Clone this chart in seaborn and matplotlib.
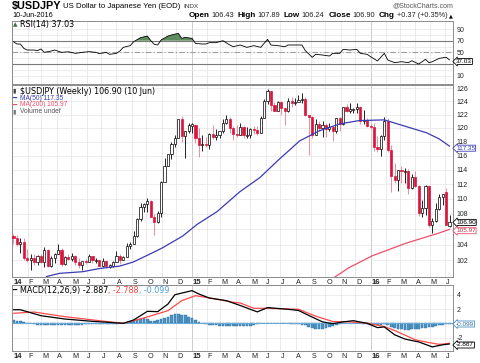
import numpy as np
import pandas as pd
import matplotlib
matplotlib.use("Agg")
import matplotlib.pyplot as plt
import matplotlib.dates as mdates
import matplotlib.transforms as mtrans
from matplotlib.ticker import FixedLocator, NullLocator, FixedFormatter
import seaborn as sns

# ---------------- data ----------------
week_dates = pd.date_range("2014-01-03", "2016-06-10", freq="W-FRI")  # 128 weekly bars

opens = [105.1, 104.8, 104.1, 104.3, 102.3, 102.0, 102.3, 101.8, 102.5, 101.8, 103.3, 101.3, 102.3,
         102.8, 103.3, 101.6, 102.4, 102.2, 102.6, 101.85, 101.45, 101.95, 101.8, 102.5, 102.0, 102.05,
         101.35, 101.9, 101.3, 101.35, 101.8, 102.6, 102.05, 102.4, 103.8, 104.1, 105.1, 107.3, 108.9,
         109.3, 109.7, 107.6, 106.9, 108.1, 112.3, 114.6, 116.3, 117.7, 118.6, 121.4, 118.8, 119.5,
         120.4, 120.5, 118.6, 117.5, 117.7, 117.5, 119.1, 118.7, 119.0, 119.6, 120.8, 121.4, 120.0,
         119.1, 119.0, 120.2, 118.9, 118.9, 119.8, 119.7, 119.3, 121.5, 124.1, 125.6, 123.4, 122.6,
         123.9, 123.0, 122.6, 124.0, 123.8, 123.9, 124.2, 124.3, 122.0, 121.7, 119.0, 120.6, 120.0,
         120.5, 119.9, 120.2, 119.5, 121.5, 120.6, 123.2, 122.6, 122.8, 122.8, 123.1, 121.0, 121.2,
         120.3, 120.2, 117.2, 117.0, 118.8, 121.1, 116.8, 113.2, 112.6, 114.0, 113.8, 113.8, 111.5,
         113.0, 111.7, 108.1, 108.8, 111.8, 106.6, 107.1, 108.6, 110.2, 110.9, 106.43]
highs = [105.4, 105.2, 104.9, 104.9, 103.4, 102.8, 102.8, 102.7, 102.8, 103.7, 103.4, 102.6, 102.9,
         104.1, 103.6, 102.5, 102.8, 103.0, 102.7, 102.35, 101.7, 102.2, 102.8, 102.6, 102.3, 102.1,
         102.3, 102.0, 101.6, 101.9, 103.15, 102.8, 102.6, 104.2, 104.3, 105.7, 107.4, 109.46, 109.4,
         110.09, 109.9, 108.0, 108.4, 112.5, 115.6, 116.3, 118.0, 119.0, 121.4, 121.85, 119.6, 120.8,
         120.8, 120.6, 120.0, 118.9, 118.7, 119.2, 120.5, 119.8, 119.6, 121.3, 122.0, 121.6, 120.3,
         120.4, 120.8, 120.3, 120.1, 120.0, 120.3, 120.3, 121.8, 124.4, 125.85, 125.6, 123.9, 124.0,
         124.0, 123.0, 124.5, 124.6, 124.5, 125.0, 125.28, 124.6, 122.0, 121.8, 121.3, 121.0, 121.0,
         120.8, 120.7, 120.3, 121.5, 121.7, 123.2, 123.6, 123.8, 123.0, 123.7, 123.3, 122.7, 121.5,
         120.6, 120.7, 118.8, 118.9, 121.7, 121.5, 117.5, 114.9, 114.0, 114.5, 114.2, 114.1, 113.4,
         113.8, 111.9, 109.8, 111.9, 111.9, 107.5, 109.5, 110.6, 110.6, 111.45, 107.89]
lows = [104.1, 103.8, 102.9, 102.1, 101.8, 100.8, 101.4, 101.4, 101.7, 101.2, 101.2, 101.2, 101.7,
        102.8, 101.3, 101.4, 102.0, 101.9, 101.45, 101.1, 100.8, 101.6, 101.8, 101.7, 101.7, 101.3,
        101.2, 101.1, 101.1, 101.2, 101.8, 101.5, 102.0, 102.4, 103.5, 104.1, 105.0, 107.0, 108.3,
        108.3, 107.6, 105.2, 106.8, 107.6, 112.3, 114.6, 115.5, 117.2, 118.6, 117.9, 115.6, 119.3,
        119.3, 117.8, 115.85, 116.7, 117.3, 116.9, 118.4, 118.3, 118.6, 119.3, 120.6, 119.3, 118.3,
        118.7, 118.9, 118.6, 118.6, 118.5, 119.1, 118.9, 119.3, 121.5, 123.6, 122.5, 122.5, 122.6,
        121.9, 120.4, 122.4, 123.2, 123.4, 123.9, 123.8, 121.8, 116.15, 118.6, 119.0, 119.5, 118.7,
        118.7, 119.6, 118.1, 119.3, 119.6, 120.4, 122.4, 122.2, 122.3, 122.3, 120.6, 120.6, 120.2,
        119.8, 116.7, 116.5, 115.97, 118.3, 116.5, 110.98, 112.2, 111.1, 112.2, 112.2, 110.7, 111.4,
        111.6, 107.7, 107.6, 107.9, 106.3, 105.55, 106.9, 108.5, 109.2, 106.5, 106.24]
closes = [104.8, 104.1, 104.3, 102.3, 102.0, 102.3, 101.8, 102.5, 101.8, 103.3, 101.3, 102.3, 102.8,
          103.3, 101.6, 102.4, 102.2, 102.6, 101.85, 101.45, 101.95, 101.8, 102.5, 102.0, 102.05, 101.35,
          101.9, 101.3, 101.35, 101.8, 102.6, 102.05, 102.4, 103.8, 104.1, 105.1, 107.3, 108.9, 109.3,
          109.7, 107.6, 106.9, 108.1, 112.3, 114.6, 116.3, 117.7, 118.6, 121.4, 118.8, 119.5, 120.4,
          120.5, 118.6, 117.5, 117.7, 117.5, 119.1, 118.7, 119.0, 119.6, 120.8, 121.4, 120.0, 119.1,
          119.0, 120.2, 118.9, 118.9, 119.8, 119.7, 119.3, 121.5, 124.1, 125.6, 123.4, 122.6, 123.9,
          123.0, 122.6, 124.0, 123.8, 123.9, 124.2, 124.3, 122.0, 121.7, 119.0, 120.6, 120.0, 120.5,
          119.9, 120.2, 119.5, 121.5, 120.6, 123.2, 122.6, 122.8, 122.8, 123.1, 121.0, 121.2, 120.3,
          120.2, 117.2, 117.0, 118.8, 121.1, 116.8, 113.2, 112.6, 114.0, 113.8, 113.8, 111.5, 113.0,
          111.7, 108.1, 108.8, 111.8, 106.6, 107.1, 108.6, 110.2, 110.7, 106.53, 106.90]

ma50_dates = ["2014-03-11", "2014-04-07", "2014-05-24", "2014-06-28", "2014-08-08", "2014-09-04",
              "2014-10-08", "2014-11-03", "2014-12-14", "2015-01-12", "2015-02-22", "2015-04-10",
              "2015-05-20", "2015-06-29", "2015-07-23", "2015-08-09", "2015-09-19", "2015-10-30",
              "2015-12-09", "2016-01-29", "2016-03-14", "2016-04-24", "2016-05-20", "2016-06-10"]
ma50_vals = [100.0, 100.4, 100.6, 101.0, 101.3, 101.8, 102.8, 103.6, 105.1, 106.6, 108.3, 111.0,
             112.9, 115.5, 117.0, 118.1, 119.6, 120.6, 121.1, 121.2, 120.2, 119.3, 118.4, 117.35]
ma200_dates = ["2015-10-19", "2015-11-18", "2016-01-05", "2016-03-14", "2016-05-20", "2016-06-10"]
ma200_vals = [99.9, 101.1, 102.6, 104.2, 105.5, 105.97]

rsi_idx = [0, 1, 2, 3, 4, 6, 7, 8, 9, 11, 12, 14, 16, 18, 20, 22, 24, 25, 27, 28, 30, 31, 32, 34, 35,
           37, 39, 40, 41, 42, 43, 45, 46, 48, 49, 50, 52, 53, 55, 56, 57, 59, 61, 63, 64, 66, 68, 70,
           72, 74, 75, 77, 79, 80, 84, 85, 87, 88, 90, 92, 93, 95, 96, 98, 100, 101, 103, 104, 106,
           108, 109, 111, 113, 115, 116, 118, 120, 121, 122, 124, 126, 127]
rsi_vals = [68.3, 64.3, 64.3, 56.9, 54.0, 54.0, 53.0, 55.7, 50.0, 52.3, 54.0, 50.0, 51.0, 48.3, 50.0,
            51.2, 50.0, 47.7, 50.0, 46.6, 48.3, 52.3, 58.6, 61.5, 68.3, 75.2, 78.0, 70.0, 63.8, 62.6,
            71.2, 78.0, 79.8, 82.6, 74.0, 75.7, 74.0, 65.4, 64.3, 64.3, 66.6, 66.6, 70.0, 62.6, 59.7,
            62.6, 58.6, 61.5, 58.6, 72.3, 62.6, 61.5, 59.7, 62.6, 62.6, 52.9, 41.5, 46.6, 45.4, 43.7,
            48.3, 48.3, 55.1, 54.0, 55.1, 48.3, 46.6, 42.6, 35.2, 48.3, 36.9, 32.3, 34.0, 32.3, 35.7,
            30.0, 38.0, 32.3, 34.0, 39.7, 41.5, 37.03]

macd_idx = [0, 2, 8, 15, 23, 32, 35, 39, 42, 45, 47, 52, 54, 57, 62, 66, 71, 74, 80, 83, 86, 90, 93,
            96, 99, 103, 106, 108, 111, 114, 118, 122, 125, 127]
macd_vals = [1.9, 1.9, 1.07, 0.6, 0.28, 0.0, 0.47, 1.68, 1.63, 2.7, 4.0, 4.57, 4.1, 3.54, 3.17, 2.5,
             1.6, 2.2, 1.96, 1.8, 1.1, 0.2, -0.05, 0.2, 0.37, 0.0, -0.6, -0.5, -1.6, -2.2, -2.6, -3.3,
             -3.0, -2.887]
signal_idx = [0, 6, 15, 25, 32, 38, 45, 49, 53, 59, 64, 66, 70, 74, 83, 88, 93, 98, 103, 108, 111,
              114, 117, 120, 124, 127]
signal_vals = [1.4, 1.58, 0.93, 0.37, 0.0, 0.75, 1.77, 3.17, 3.87, 3.4, 2.94, 2.85, 2.1, 2.1, 1.96,
               1.0, 0.25, 0.2, 0.03, -0.45, -1.0, -1.65, -2.3, -2.6, -2.95, -2.788]
hist_vals = [0.40, 0.35, 0.30, 0.20, 0.10, 0.00,
             -0.10, -0.20, -0.25, -0.30, -0.30, -0.25, -0.30,
             -0.25, -0.20, -0.25, -0.30, -0.25, -0.20, -0.20, -0.20,
             -0.15, -0.15, -0.10, -0.10, -0.10, -0.10, -0.15, -0.15,
             -0.10, -0.05, 0.00, 0.00, 0.05,
             0.15, 0.30, 0.50, 0.60, 0.70, 0.60, 0.35,
             0.30, 0.40, 0.60, 0.80,
             0.95, 1.10, 1.25, 1.30, 1.20, 1.10,
             0.90, 0.70, 0.50, 0.25, 0.05,
             -0.10, -0.20, -0.25, -0.30, -0.35, -0.35, -0.35, -0.35, -0.35, -0.35, -0.40, -0.40,
             -0.40, -0.35, -0.25,
             -0.10, 0.00, 0.05, 0.10, 0.10, 0.05, 0.05, 0.00, 0.00, 0.00, -0.05, -0.10, -0.15, -0.20,
             -0.30, -0.50, -0.70, -0.85, -0.85, -0.75, -0.60, -0.50, -0.35, -0.20,
             -0.05, 0.05, 0.10, 0.10, 0.10, 0.05, 0.00, -0.05, -0.10,
             -0.25, -0.30, -0.30, -0.20, -0.10, -0.30, -0.50,
             -0.70, -0.80, -0.85, -0.90, -0.90, -0.85, -0.80, -0.75, -0.70, -0.65, -0.55, -0.50,
             -0.40, -0.30, -0.20, -0.10, -0.099]

price_ticks = [102, 104, 106, 108, 110, 112, 114, 116, 118, 120, 122, 124, 126]
price_labels = ["102", "104", "", "108", "110", "112", "114", "116", "118", "120", "122", "124", "126"]
rsi_ticks = [10, 30, 50, 70, 90]
rsi_labels = ["10", "", "50", "70", "90"]
macd_ticks = [-2, 2, 4]
month_letters = ["J", "F", "M", "A", "M", "J", "J", "A", "S", "O", "N", "D"]

# ---------------- styling ----------------
sns.set_theme(style="white")
plt.rcParams["font.family"] = ["DejaVu Sans"]

W, H = 480, 363
fig = plt.figure(figsize=(W / 100, H / 100), dpi=100)
fig.patch.set_facecolor("white")


def rect(top, bottom, left=12, right=453):
    return [left / W, 1 - bottom / H, (right - left) / W, (bottom - top) / H]


ax_rsi = fig.add_axes(rect(21, 84))
ax_p = fig.add_axes(rect(85, 277))
ax_m = fig.add_axes(rect(285, 351))

RED = "#dc143c"
PINK = "#f07890"
BLUE_MA = "#3b3bb5"
RED_MA = "#ec4f6b"
GRID = "#e6e6e6"

xd = mdates.date2num(week_dates)
x0 = mdates.date2num(pd.Timestamp("2013-12-31"))
x1 = mdates.date2num(pd.Timestamp("2016-06-17"))
months = pd.date_range("2014-01-01", "2016-06-01", freq="MS")

for ax in (ax_rsi, ax_p, ax_m):
    ax.set_xlim(x0, x1)
    ax.set_facecolor("white")
    for s in ax.spines.values():
        s.set_color("#8c8c8c")
        s.set_linewidth(0.7)
    for m in months:
        ax.axvline(mdates.date2num(m), color="#c4c4c4" if m.month == 1 else GRID, lw=0.6, zorder=0)
    ax.set_xticks([])
    ax.yaxis.tick_right()
    ax.tick_params(axis="y", length=0, pad=2.5, labelsize=5.0, labelcolor="#222222")
    ax.grid(False)

# ---------------- RSI panel ----------------
ax_rsi.set_ylim(-4.3, 103.8)
for v in range(10, 100, 10):
    ax_rsi.axhline(v, color=GRID, lw=0.5, zorder=0)
ax_rsi.axhline(70, color="#7a7a7a", lw=0.8, zorder=1)
ax_rsi.axhline(30, color="#7a7a7a", lw=0.8, zorder=1)
ax_rsi.axhline(50, color="#a0a0a0", lw=0.8, ls=(0, (5, 2, 1, 2)), zorder=1)
xr = xd[rsi_idx]
rv = np.array(rsi_vals)
ax_rsi.fill_between(xr, 70, rv, where=rv >= 70, interpolate=True, color="#5e8c5e", lw=0, zorder=2)
sns.lineplot(x=xr, y=rv, ax=ax_rsi, color="black", lw=0.6, zorder=3, legend=False)
ax_rsi.yaxis.set_major_locator(FixedLocator(rsi_ticks))
ax_rsi.yaxis.set_major_formatter(FixedFormatter(rsi_labels))
for lab in ax_rsi.get_yticklabels():
    lab.set_family("Liberation Sans")
ax_rsi.set_ylabel("")

# ---------------- price panel ----------------
ax_p.set_yscale("log")
ax_p.set_ylim(99.95, 126.5)
for v in price_ticks:
    ax_p.axhline(v, color=GRID, lw=0.5, zorder=0)
ax_p.yaxis.set_major_locator(FixedLocator(price_ticks))
ax_p.yaxis.set_minor_locator(NullLocator())
ax_p.yaxis.set_major_formatter(FixedFormatter(price_labels))
for lab in ax_p.get_yticklabels():
    lab.set_family("Liberation Sans")

o = np.array(opens); h = np.array(highs); lo = np.array(lows); c = np.array(closes)
prev = np.r_[o[0], c[:-1]]
for i in range(len(xd)):
    up = c[i] >= prev[i]
    col = "black" if up else RED
    wick = "black" if up else PINK
    ax_p.vlines(xd[i], lo[i], h[i], color=wick, lw=0.6, zorder=3)
    bot, top = min(o[i], c[i]), max(o[i], c[i])
    if top - bot < 0.12:
        bot -= 0.06; top += 0.06
    face = "white" if c[i] >= o[i] else col
    ax_p.bar(xd[i], top - bot, bottom=bot, width=4.4, facecolor=face, edgecolor=col, lw=0.5, zorder=4)

sns.lineplot(x=mdates.date2num(pd.to_datetime(ma50_dates)), y=ma50_vals, ax=ax_p, color=BLUE_MA,
             lw=0.9, zorder=5, legend=False)
sns.lineplot(x=mdates.date2num(pd.to_datetime(ma200_dates)), y=ma200_vals, ax=ax_p, color=RED_MA,
             lw=0.9, zorder=5, legend=False)
ax_p.set_ylabel("")

# ---------------- MACD panel ----------------
ax_m.set_ylim(-3.87, 5.36)
for v in [-2, 0, 2, 4]:
    ax_m.axhline(v, color=GRID, lw=0.5, zorder=0)
ax_m.bar(xd, hist_vals, width=5.5, color="#4b93c4", edgecolor="#2f6f9f", lw=0.3, zorder=2)
ax_m.axhline(0, color="#6aaad6", lw=0.8, zorder=2)
sns.lineplot(x=xd[signal_idx], y=signal_vals, ax=ax_m, color="#ff4a4a", lw=0.9, zorder=3, legend=False)
sns.lineplot(x=xd[macd_idx], y=macd_vals, ax=ax_m, color="black", lw=0.9, zorder=4, legend=False)
ax_m.yaxis.set_major_locator(FixedLocator(macd_ticks))
ax_m.yaxis.set_major_formatter(FixedFormatter([str(t) for t in macd_ticks]))
for lab in ax_m.get_yticklabels():
    lab.set_family("Liberation Sans")
ax_m.set_ylabel("")

# ---------------- date labels ----------------
for ax, ypix in ((ax_p, 278.5), (ax_m, 352.5)):
    tr = mtrans.blended_transform_factory(ax.transData, fig.transFigure)
    for m in months:
        if m.month == 1:
            lab, wt, sz = m.strftime("%y"), "bold", 5.6
        else:
            lab, wt, sz = month_letters[m.month - 1], "normal", 5.2
        ax.text(mdates.date2num(m) + 1.5, 1 - ypix / H, lab, transform=tr, ha="left", va="top",
                fontsize=sz, fontweight=wt, family="Liberation Sans", color="#222222")

# ---------------- texts ----------------
renderer = fig.canvas.get_renderer()


def seq(parts, x, y, right=False):
    """parts: (text, color, weight, family, size, gap_px_before)"""
    texts = []
    cx = x
    for s, col, wt, fam, sz, gap in parts:
        cx += gap
        t = fig.text(cx / W, 1 - y / H, s, color=col, fontweight=wt, family=fam, fontsize=sz,
                     ha="left", va="center")
        bb = t.get_window_extent(renderer)
        cx = bb.x1
        texts.append(t)
    if right:
        shift = x - cx
        for t in texts:
            px, py = t.get_position()
            t.set_position((px + shift / W, py))
    return texts


LS = ["Liberation Sans", "DejaVu Sans"]
DJ = ["DejaVu Sans"]
seq([("$USDJPY", "black", "bold", LS, 7.8, 0),
     ("US Dollar to Japanese Yen (EOD)", "black", "normal", LS, 5.6, 2),
     ("INDX", "#333333", "normal", LS, 4.6, 3)], 11.5, 6)
fig.text(453 / W, 1 - 6 / H, "@StockCharts.com", ha="right", va="center", fontsize=5.0,
         family=LS, color="#555555")
fig.text(12 / W, 1 - 15.5 / H, "10-Jun-2016", ha="left", va="center", fontsize=5.2, family=LS,
         color="black")
seq([("Open", "black", "bold", LS, 5.9, 0), ("106.43", "#222222", "normal", LS, 5.3, 1.8),
     ("High", "black", "bold", LS, 5.9, 3.8), ("107.89", "#222222", "normal", LS, 5.3, 1.8),
     ("Low", "black", "bold", LS, 5.9, 3.8), ("106.24", "#222222", "normal", LS, 5.3, 1.8),
     ("Close", "black", "bold", LS, 5.9, 3.8), ("106.90", "#222222", "normal", LS, 5.3, 1.8),
     ("Chg", "black", "bold", LS, 5.9, 3.8), ("+0.37 (+0.35%)", "#222222", "normal", LS, 5.3, 1.8),
     ("▲", "black", "normal", DJ, 3.6, 1.8)], 453, 15.5, right=True)

LEG = 5.8
# RSI legend
fig.text(12.8 / W, 1 - 24.5 / H, "▲", fontsize=4.2, color="#3f6f3f", va="center", ha="left", family=DJ)
fig.text(20 / W, 1 - 24.5 / H, "RSI(14) 37.03", fontsize=LEG, color="black", va="center", ha="left",
         family=DJ)
# price legend
fig.text(12.8 / W, 1 - 91 / H, "▮", fontsize=4.5, color="#444444", va="center", ha="left", family=DJ)
fig.text(20 / W, 1 - 91 / H, "$USDJPY (Weekly) 106.90 (10 Jun)", fontsize=LEG, color="black",
         va="center", ha="left", family=DJ)
fig.text(12.5 / W, 1 - 98.3 / H, "━", fontsize=5, color=BLUE_MA, va="center", ha="left", family=DJ)
fig.text(20 / W, 1 - 98.3 / H, "MA(50) 117.35", fontsize=4.8, color=BLUE_MA, va="center", ha="left",
         family=LS)
fig.text(12.5 / W, 1 - 105 / H, "━", fontsize=5, color=RED_MA, va="center", ha="left", family=DJ)
fig.text(20 / W, 1 - 105 / H, "MA(200) 105.97", fontsize=4.8, color=RED_MA, va="center", ha="left",
         family=LS)
fig.text(12.8 / W, 1 - 111.7 / H, "▮", fontsize=4.5, color="#777777", va="center", ha="left", family=DJ)
fig.text(20 / W, 1 - 111.7 / H, "Volume undef", fontsize=4.8, color="#555555", va="center", ha="left",
         family=LS)
# MACD legend
fig.text(12.5 / W, 1 - 290 / H, "━", fontsize=5, color="black", va="center", ha="left", family=DJ)
seq([("MACD(12,26,9) -2.887", "black", "normal", DJ, LEG, 0),
     (", -2.788", "#ff4040", "normal", DJ, LEG, 0),
     (", -0.099", "#4aa0d8", "normal", DJ, LEG, 0)], 20, 290)


def tag(y, s, ec, tc="black"):
    fig.text(456 / W, 1 - y / H, s, fontsize=4.6, family=LS, color=tc, ha="left", va="center",
             bbox=dict(boxstyle="larrow,pad=0.08", fc="white", ec=ec, lw=0.6))


tag(61.5, "37.03", "black")
tag(148.2, "117.35", BLUE_MA, BLUE_MA)
tag(222.4, "106.90", "black")
tag(230.7, "105.97", RED_MA, "#b0304a")
tag(324, "-0.099", "#4a90c0", "#2f6f9f")
tag(345, "-2.887", "black")

fig.savefig("out.png", dpi=100, facecolor="white")
